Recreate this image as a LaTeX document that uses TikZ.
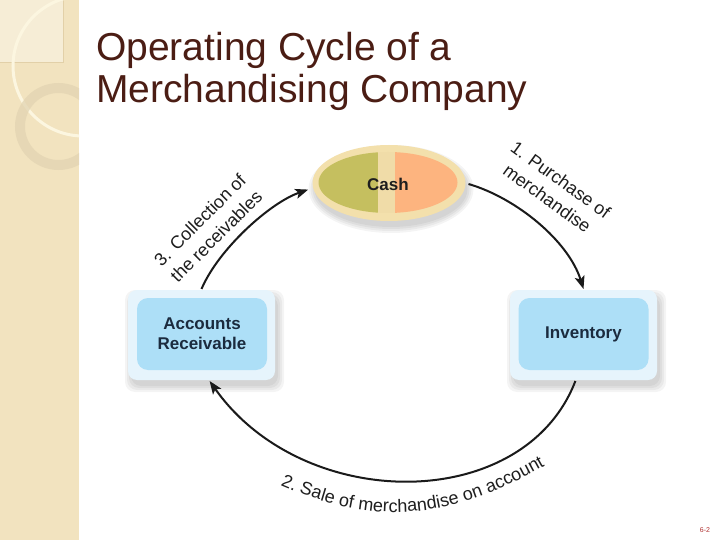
\documentclass[tikz,border=0pt]{standalone}
\usepackage{fontspec}
\setmainfont{Liberation Sans}
\usetikzlibrary{shapes.geometric,arrows.meta,decorations.text}
\definecolor{stripcol}{HTML}{F2E3BF}
\definecolor{striplight}{HTML}{F6EDD6}
\definecolor{stripedge}{HTML}{E2D0A8}
\definecolor{creamcol}{HTML}{FCF6E0}
\definecolor{ringcol}{HTML}{E2D4B2}
\definecolor{titlecol}{HTML}{4B1D14}
\definecolor{cashring}{HTML}{F3E0AC}
\definecolor{dividercol}{HTML}{F0DCA8}
\definecolor{olivecol}{HTML}{C5BF5F}
\definecolor{salmoncol}{HTML}{FDB47F}
\definecolor{panelcol}{HTML}{E6F4FC}
\definecolor{boxcol}{HTML}{ADDFF7}
\definecolor{boxtext}{HTML}{1B2B3E}
\definecolor{arrowcol}{HTML}{1A1A1A}
\definecolor{labelcol}{HTML}{1E1E1E}
\definecolor{pagecol}{HTML}{B03030}
\newcommand{\lblfont}{\fontsize{18}{23}\selectfont}
\tikzset{
  titlestyle/.style={font=\fontsize{39}{43}\selectfont, text=titlecol, inner sep=0pt},
  panelbox/.style={rectangle, rounded corners=9pt, fill=panelcol, minimum width=147pt, minimum height=90pt, inner sep=0pt, outer sep=1pt},
  innerbox/.style={rectangle, rounded corners=11pt, fill=boxcol, minimum width=130pt, minimum height=72pt, inner sep=0pt, align=center, text=boxtext, font=\bfseries\fontsize{17}{20}\selectfont},
  cyclearrow/.style={draw=arrowcol, line width=2pt, -{Stealth[length=13pt,width=10pt,inset=3pt]}},
  steplabel/.style={font=\lblfont, text=labelcol, align=center, inner sep=0pt},
  softshadow/.style={fill=black, opacity=0.045},
}
\begin{document}
\begin{tikzpicture}[x=1pt,y=-1pt]
\useasboundingbox (0,0) rectangle (720,540);
\fill[white] (0,0) rectangle (720,540);
% left decorative strip
\fill[stripcol] (0,0) rectangle (79,540);
\begin{scope}
  \clip (0,0) rectangle (79,540);
  \fill[striplight] (0,0) rectangle (63,62);
  \draw[stripedge, line width=0.6pt] (0,62) -- (63,62) -- (63,0);
  \draw[creamcol, line width=3pt] (83,66) circle[radius=70];
  \draw[ringcol, line width=10pt, opacity=0.75] (58.5,126.5) circle[radius=38.5];
\end{scope}
% title
\node[anchor=base west, titlestyle] (title1) at (96,61) {Operating Cycle of a};
\node[anchor=base west, titlestyle] (title2) at (96,103) {Merchandising Company};
% shadows
\foreach \s in {0,2,4,6}{
  \fill[softshadow] (391,189) ellipse[x radius={76.5+\s}, y radius={38+\s}];
  \fill[softshadow, rounded corners=10pt] ({131-\s},{296-\s}) rectangle ({278+\s},{386+\s});
  \fill[softshadow, rounded corners=10pt] ({513-\s},{296-\s}) rectangle ({660+\s},{386+\s});
}
% cash
\fill[cashring] (389,183) ellipse[x radius=76.5, y radius=38];
\begin{scope}
  \clip (388,182.5) ellipse[x radius=69.5, y radius=30.5];
  \fill[olivecol] (310,140) rectangle (378,230);
  \fill[dividercol] (378,140) rectangle (395,230);
  \fill[salmoncol] (395,140) rectangle (470,230);
\end{scope}
\node[ellipse, minimum width=153pt, minimum height=76pt, inner sep=0pt, outer sep=4pt,
      font=\bfseries\fontsize{17}{20}\selectfont, text=labelcol] (cash) at (388,184) {Cash};
% boxes
\node[panelbox] (arpanel) at (201.5,335) {};
\node[innerbox] (ar) at (202,334) {Accounts\\Receivable};
\node[panelbox] (invpanel) at (583.5,335) {};
\node[innerbox] (inv) at (583.5,334) {Inventory};
% cycle arrows
\draw[cyclearrow] (cash.east) .. controls +(48,14) and +(-15,-48) .. (invpanel.north);
\draw[cyclearrow] (invpanel.-100) .. controls +(-51,133) and +(94,133) .. (arpanel.-80);
\draw[cyclearrow] (arpanel.north) .. controls +(17,-40) and +(-38,13) .. (cash.184);
% labels
\node[steplabel, rotate=-36] (lbl1) at (554,189) {1. Purchase of\\merchandise};
\node[steplabel, rotate=45] (lbl3) at (208,228) {3. Collection of\\the receivables};
\path[decorate, decoration={text along path, text align=center, text color=labelcol,
      text={|\lblfont|2. Sale of merchandise on account}}]
  (256,474) .. controls (375,533) and (455,522) .. (568,452);
% page number
\node[font=\fontsize{7}{8}\selectfont, text=pagecol, inner sep=0pt] (page) at (705,530) {6-2};
\end{tikzpicture}
\end{document}
